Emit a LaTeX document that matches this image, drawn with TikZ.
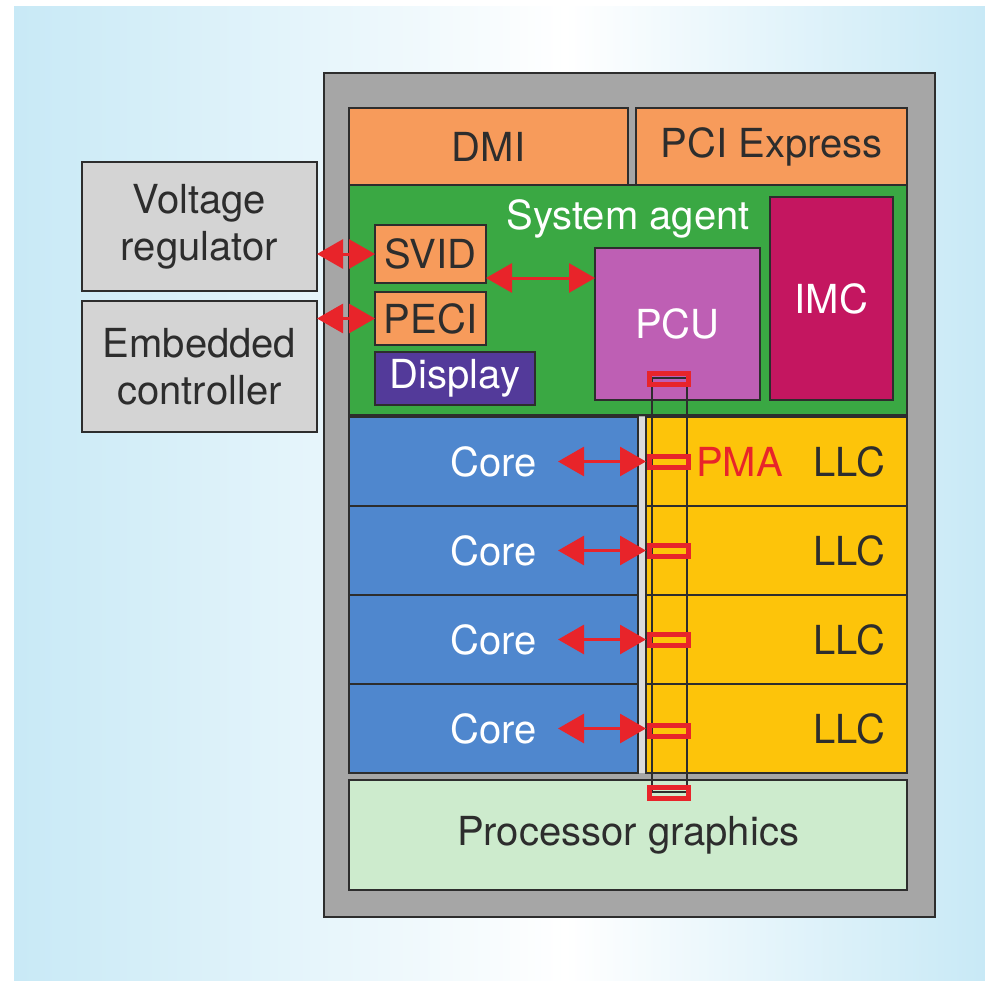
\documentclass[tikz,border=0pt]{standalone}
\usepackage{fontspec}
\setmainfont{TeX Gyre Heros}
\usepackage{tikz}
\usetikzlibrary{arrows.meta}
\usetikzlibrary{calc}
\definecolor{bgblue}{RGB}{200,233,246}
\definecolor{chipgrey}{RGB}{166,166,166}
\definecolor{edge}{RGB}{45,45,45}
\definecolor{ink}{RGB}{45,45,45}
\definecolor{ioorange}{RGB}{247,155,91}
\definecolor{sagreen}{RGB}{58,168,67}
\definecolor{imcred}{RGB}{196,22,96}
\definecolor{pcupink}{RGB}{190,95,180}
\definecolor{disppurple}{RGB}{83,58,154}
\definecolor{coreblue}{RGB}{79,135,206}
\definecolor{llcyellow}{RGB}{253,196,10}
\definecolor{gfxgreen}{RGB}{205,235,205}
\definecolor{extgrey}{RGB}{212,212,212}
\definecolor{gapgrey}{RGB}{220,220,220}
\definecolor{pmared}{RGB}{232,36,42}
\tikzset{>=stealth}
\tikzset{
  blk/.style={draw=edge, line width=2.4pt, inner sep=0pt, outer sep=0pt, text=ink, align=center, font=\fontsize{40}{47}\selectfont},
  biarrow/.style={draw=pmared, line width=3pt, {Triangle[length=26pt,width=29pt]}-{Triangle[length=26pt,width=29pt]}},
  tap/.style={draw=pmared, line width=5pt, minimum width=39pt, minimum height=11pt, inner sep=0pt},
  ring/.style={draw=edge, line width=2.6pt, inner sep=0pt}
}

\begin{document}
\begin{tikzpicture}[x=1pt, y=-1pt]
\useasboundingbox (0,0) rectangle (985,980);
\shade[left color=bgblue, right color=white] (14,6) rectangle (565,980);
\shade[left color=white, right color=bgblue] (565,6) rectangle (985,980);
\node[blk, fill=chipgrey, line width=2.6pt, minimum width=611, minimum height=844] (chip) at (629.5,495) {};
\node[blk, fill=ioorange, minimum width=279, minimum height=77] (dmi) at (488.5,146.5) {DMI};
\node[blk, fill=ioorange, minimum width=271, minimum height=77] (pcie) at (771.5,146.5) {PCI Express};
\node[blk, fill=sagreen, minimum width=558, minimum height=230] (sa) at (628,300) {};
\node[blk, draw=none, text=white] (satitle) at (628,219) {System agent};
\node[blk, fill=imcred, text=white, minimum width=123, minimum height=203] (imc) at (831.5,298.5) {IMC};
\node[blk, fill=pcupink, text=white, minimum width=165, minimum height=152] (pcu) at (677.5,324) {PCU};
\node[blk, fill=ioorange, minimum width=111, minimum height=58] (svid) at (430.5,254) {SVID};
\node[blk, fill=ioorange, minimum width=111, minimum height=53] (peci) at (430.5,318.5) {PECI};
\node[blk, fill=disppurple, text=white, minimum width=160, minimum height=53] (disp) at (455,378.5) {Display};
\node[blk, fill=extgrey, minimum width=235, minimum height=129] (vr) at (199.5,226.5) {Voltage\\regulator};
\node[blk, fill=extgrey, minimum width=235, minimum height=131] (ec) at (199.5,366.5) {Embedded\\controller};
\fill[gapgrey] (639,417) rectangle (645,773);
\node[blk, fill=coreblue, text=white, minimum width=289, minimum height=89] (core1) at (493.5,461.5) {Core};
\node[blk, fill=coreblue, text=white, minimum width=289, minimum height=89] (core2) at (493.5,550.5) {Core};
\node[blk, fill=coreblue, text=white, minimum width=289, minimum height=89] (core3) at (493.5,639.5) {Core};
\node[blk, fill=coreblue, text=white, minimum width=289, minimum height=89] (core4) at (493.5,728.5) {Core};
\node[blk, fill=llcyellow, minimum width=261, minimum height=89] (llc1) at (776.5,461.5) {};
\node[blk, fill=llcyellow, minimum width=261, minimum height=89] (llc2) at (776.5,550.5) {};
\node[blk, fill=llcyellow, minimum width=261, minimum height=89] (llc3) at (776.5,639.5) {};
\node[blk, fill=llcyellow, minimum width=261, minimum height=89] (llc4) at (776.5,728.5) {};
\node[blk, draw=none, anchor=east] (llclab1) at ([xshift=-22pt]llc1.east) {LLC};
\node[blk, draw=none, anchor=east] (llclab2) at ([xshift=-22pt]llc2.east) {LLC};
\node[blk, draw=none, anchor=east] (llclab3) at ([xshift=-22pt]llc3.east) {LLC};
\node[blk, draw=none, anchor=east] (llclab4) at ([xshift=-22pt]llc4.east) {LLC};
\node[blk, fill=gfxgreen, minimum width=558, minimum height=110] (gfx) at (628,835) {Processor graphics};
\node[ring, minimum width=35, minimum height=414] (pmaring) at (669.5,585) {};
\node[tap] (tap0) at (669,379) {};
\node[tap] (tap1) at (669,461.5) {};
\node[tap] (tap2) at (669,551) {};
\node[tap] (tap3) at (669,640) {};
\node[tap] (tap4) at (669,731) {};
\node[tap] (tap5) at (669,792.5) {};
\node[blk, draw=none, text=pmared, anchor=west] (pma) at (696,461.5) {PMA};
\coordinate (svidout) at ([yshift=-24pt]svid.east);
\draw[biarrow] (vr.east |- svid.west) -- (svid.west);
\draw[biarrow] (ec.east |- peci.west) -- (peci.west);
\draw[biarrow] (svidout) -- (svidout -| pcu.west);
\draw[biarrow] ([xshift=-88pt]llc1.west) -- (llc1.west);
\draw[biarrow] ([xshift=-88pt]llc2.west) -- (llc2.west);
\draw[biarrow] ([xshift=-88pt]llc3.west) -- (llc3.west);
\draw[biarrow] ([xshift=-88pt]llc4.west) -- (llc4.west);
\end{tikzpicture}
\end{document}
